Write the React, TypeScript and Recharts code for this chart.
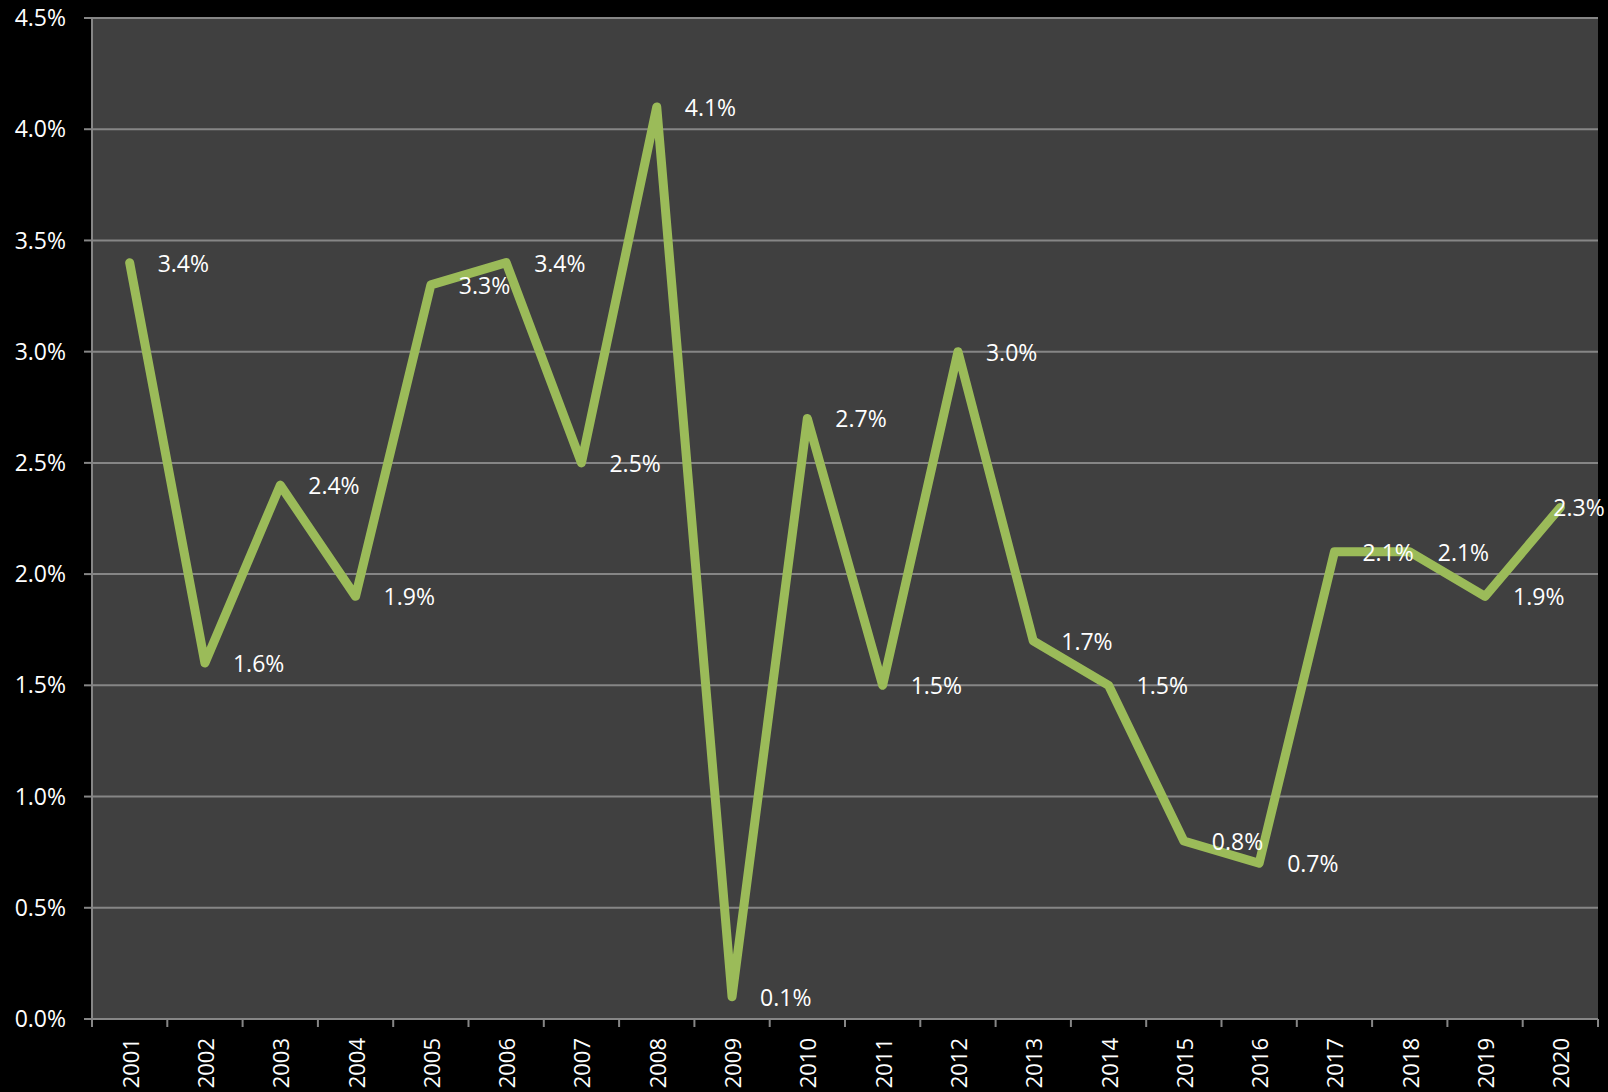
import { CartesianGrid, Line, LineChart, XAxis, YAxis } from 'recharts';

const years = [
  '2001', '2002', '2003', '2004', '2005', '2006', '2007', '2008', '2009', '2010',
  '2011', '2012', '2013', '2014', '2015', '2016', '2017', '2018', '2019', '2020',
];

const growth = [3.4, 1.6, 2.4, 1.9, 3.3, 3.4, 2.5, 4.1, 0.1, 2.7, 1.5, 3.0, 1.7, 1.5, 0.8, 0.7, 2.1, 2.1, 1.9, 2.3];

const yTicks = [0, 0.5, 1, 1.5, 2, 2.5, 3, 3.5, 4, 4.5];

const data = years.map((year, i) => ({ year, value: growth[i] }));

const WIDTH = 1608;
const HEIGHT = 1092;
const Y_AXIS_W = 92;
const X_AXIS_H = 73;
const MARGIN = { top: 18, right: 10, bottom: 0, left: 0 };
const PLOT_W = WIDTH - Y_AXIS_W - MARGIN.right;
const BAND = PLOT_W / years.length;
const AXIS_Y = HEIGHT - X_AXIS_H;

const FONT = '"Open Sans", "Noto Sans", sans-serif';
const GRID = '#868686';
const LINE = '#9BBB59';

type TickProps = {
  x: number;
  y: number;
  index: number;
  payload: { value: string };
};

const YearTick = ({ x, index, payload }: TickProps) => {
  const left = x - BAND / 2;
  const ty = AXIS_Y + 19;
  return (
    <g>
      <line x1={left} y1={AXIS_Y} x2={left} y2={AXIS_Y + 8} stroke={GRID} strokeWidth={2} />
      {index === years.length - 1 && (
        <line x1={x + BAND / 2} y1={AXIS_Y} x2={x + BAND / 2} y2={AXIS_Y + 8} stroke={GRID} strokeWidth={2} />
      )}
      <text
        x={x}
        y={ty}
        transform={`rotate(-90, ${x}, ${ty})`}
        textAnchor="end"
        dominantBaseline="central"
        fill="#ffffff"
        fontSize={22}
        fontFamily={FONT}
      >
        {payload.value}
      </text>
    </g>
  );
};

type LabelProps = {
  x: number;
  y: number;
  value: number;
  index: number;
};

const renderValueLabel = ({ x, y, value, index }: LabelProps) => {
  const dx = index === years.length - 1 ? -7 : 28;
  return (
    <text
      key={`lbl-${index}`}
      x={x + dx}
      y={y}
      textAnchor="start"
      dominantBaseline="central"
      fill="#ffffff"
      fontSize={23}
      fontFamily={FONT}
    >
      {`${value.toFixed(1)}%`}
    </text>
  );
};

export default function App() {
  return (
    <div style={{ position: 'absolute', left: 0, top: 0, width: WIDTH, height: HEIGHT, background: '#000000' }}>
      <LineChart width={WIDTH} height={HEIGHT} data={data} margin={MARGIN}>
        <CartesianGrid vertical={false} stroke={GRID} strokeWidth={2} fill="#404040" />
        <XAxis
          dataKey="year"
          scale="band"
          interval={0}
          height={X_AXIS_H}
          tickLine={false}
          tickSize={0}
          tickMargin={0}
          axisLine={{ stroke: GRID, strokeWidth: 2 }}
          tick={YearTick}
        />
        <YAxis
          width={Y_AXIS_W}
          domain={[0, 4.5]}
          ticks={yTicks}
          interval={0}
          tickFormatter={(v: number) => `${v.toFixed(1)}%`}
          tickSize={8}
          tickMargin={18}
          tickLine={{ stroke: GRID, strokeWidth: 2 }}
          axisLine={{ stroke: GRID, strokeWidth: 2 }}
          tick={{ fill: '#ffffff', fontSize: 23, fontFamily: FONT }}
        />
        <Line
          type="linear"
          dataKey="value"
          stroke={LINE}
          strokeWidth={9}
          strokeLinejoin="round"
          strokeLinecap="round"
          dot={false}
          activeDot={false}
          label={renderValueLabel}
          isAnimationActive={false}
        />
      </LineChart>
    </div>
  );
}
